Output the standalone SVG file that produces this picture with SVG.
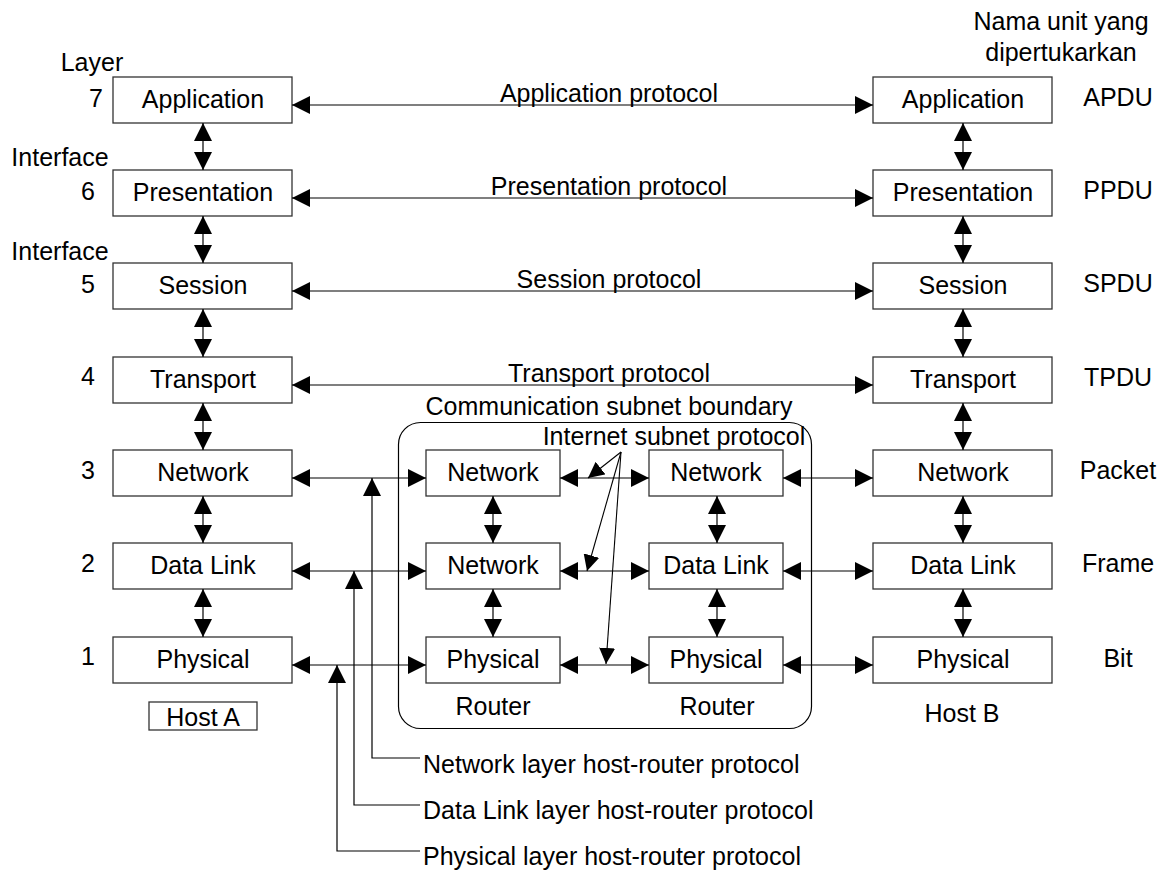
<svg xmlns="http://www.w3.org/2000/svg" width="1167" height="872" viewBox="0 0 1167 872">
<defs>
<marker id="ah" markerUnits="userSpaceOnUse" markerWidth="18" markerHeight="18" refX="18" refY="9" orient="auto-start-reverse" viewBox="0 0 18 18">
<path d="M0,0 L18,9 L0,18 z" fill="#000"/>
</marker>
<marker id="ahs" markerUnits="userSpaceOnUse" markerWidth="16" markerHeight="16" refX="16" refY="8" orient="auto" viewBox="0 0 16 16">
<path d="M0,0 L16,8 L0,16 z" fill="#000"/>
</marker>
</defs>
<style>
text{font-family:"Liberation Sans",Arial,sans-serif;font-size:25px;fill:#000}
.m{text-anchor:middle}
.e{text-anchor:end}
.box{fill:#fff;stroke:#333;stroke-width:1.3}
.ln{fill:none;stroke:#000;stroke-width:1.2}
.dbl{fill:none;stroke:#000;stroke-width:1.2;marker-start:url(#ah);marker-end:url(#ah)}
.one{fill:none;stroke:#000;stroke-width:1.2;marker-end:url(#ah)}
.thin{fill:none;stroke:#000;stroke-width:1.1;marker-end:url(#ahs)}
</style>
<rect width="1167" height="872" fill="#fff"/>

<g id="labels">
<text x="92" y="71" class="m">Layer</text>
<text x="60" y="166" class="m">Interface</text>
<text x="60" y="260" class="m">Interface</text>
<text x="96" y="107" class="m">7</text>
<text x="88" y="200" class="m">6</text>
<text x="88" y="293" class="m">5</text>
<text x="88" y="385" class="m">4</text>
<text x="88" y="479" class="m">3</text>
<text x="88" y="572" class="m">2</text>
<text x="88" y="665" class="m">1</text>
<text x="1061" y="30" class="m">Nama unit yang</text>
<text x="1061" y="61" class="m">dipertukarkan</text>
<text x="1118" y="106" class="m">APDU</text>
<text x="1118" y="199" class="m">PPDU</text>
<text x="1118" y="292" class="m">SPDU</text>
<text x="1118" y="386" class="m">TPDU</text>
<text x="1118" y="479" class="m">Packet</text>
<text x="1118" y="572" class="m">Frame</text>
<text x="1118" y="667" class="m">Bit</text>
<text x="609" y="102" class="m">Application protocol</text>
<text x="609" y="195" class="m">Presentation protocol</text>
<text x="609" y="288" class="m">Session protocol</text>
<text x="609" y="382" class="m">Transport protocol</text>
<text x="609" y="415" class="m">Communication subnet boundary</text>
<text x="674" y="445" class="m">Internet subnet protocol</text>
<text x="493" y="715" class="m">Router</text>
<text x="717" y="715" class="m">Router</text>
<text x="962" y="722" class="m">Host B</text>
<text x="423" y="773">Network layer host-router protocol</text>
<text x="423" y="819">Data Link layer host-router protocol</text>
<text x="423" y="865">Physical layer host-router protocol</text>
</g>

<g id="subnet-boundary">
<rect x="398.5" y="422.5" width="413" height="306" rx="22" ry="22" fill="none" stroke="#000" stroke-width="1.2"/>
</g>

<g id="hostA">
<g id="a7"><rect class="box" x="113" y="77" width="179" height="46"/><text x="203" y="108" class="m">Application</text></g>
<g id="a6"><rect class="box" x="113" y="170" width="179" height="46"/><text x="203" y="201" class="m">Presentation</text></g>
<g id="a5"><rect class="box" x="113" y="263" width="179" height="46"/><text x="203" y="294" class="m">Session</text></g>
<g id="a4"><rect class="box" x="113" y="357" width="179" height="46"/><text x="203" y="388" class="m">Transport</text></g>
<g id="a3"><rect class="box" x="113" y="450" width="179" height="46"/><text x="203" y="481" class="m">Network</text></g>
<g id="a2"><rect class="box" x="113" y="543" width="179" height="46"/><text x="203" y="574" class="m">Data Link</text></g>
<g id="a1"><rect class="box" x="113" y="637" width="179" height="46"/><text x="203" y="668" class="m">Physical</text></g>
<g id="hostAlabel"><rect class="box" x="149" y="702" width="108" height="28"/><text x="203" y="726" class="m">Host A</text></g>
</g>

<g id="router1">
<g id="r1n"><rect class="box" x="426" y="450" width="134" height="46"/><text x="493" y="481" class="m">Network</text></g>
<g id="r1d"><rect class="box" x="426" y="543" width="134" height="46"/><text x="493" y="574" class="m">Network</text></g>
<g id="r1p"><rect class="box" x="426" y="637" width="134" height="46"/><text x="493" y="668" class="m">Physical</text></g>
</g>

<g id="router2">
<g id="r2n"><rect class="box" x="649" y="450" width="134" height="46"/><text x="716" y="481" class="m">Network</text></g>
<g id="r2d"><rect class="box" x="649" y="543" width="134" height="46"/><text x="716" y="574" class="m">Data Link</text></g>
<g id="r2p"><rect class="box" x="649" y="637" width="134" height="46"/><text x="716" y="668" class="m">Physical</text></g>
</g>

<g id="hostB">
<g id="b7"><rect class="box" x="873" y="77" width="179" height="46"/><text x="963" y="108" class="m">Application</text></g>
<g id="b6"><rect class="box" x="873" y="170" width="179" height="46"/><text x="963" y="201" class="m">Presentation</text></g>
<g id="b5"><rect class="box" x="873" y="263" width="179" height="46"/><text x="963" y="294" class="m">Session</text></g>
<g id="b4"><rect class="box" x="873" y="357" width="179" height="46"/><text x="963" y="388" class="m">Transport</text></g>
<g id="b3"><rect class="box" x="873" y="450" width="179" height="46"/><text x="963" y="481" class="m">Network</text></g>
<g id="b2"><rect class="box" x="873" y="543" width="179" height="46"/><text x="963" y="574" class="m">Data Link</text></g>
<g id="b1"><rect class="box" x="873" y="637" width="179" height="46"/><text x="963" y="668" class="m">Physical</text></g>
</g>

<g id="connectors">
<!-- peer protocols -->
<line class="dbl" x1="292" y1="105" x2="873" y2="105"/>
<line class="dbl" x1="292" y1="198" x2="873" y2="198"/>
<line class="dbl" x1="292" y1="291" x2="873" y2="291"/>
<line class="dbl" x1="292" y1="385" x2="873" y2="385"/>
<line class="dbl" x1="292" y1="478" x2="426" y2="478"/>
<line class="dbl" x1="292" y1="571" x2="426" y2="571"/>
<line class="dbl" x1="292" y1="665" x2="426" y2="665"/>
<line class="dbl" x1="560" y1="478" x2="649" y2="478"/>
<line class="dbl" x1="560" y1="571" x2="649" y2="571"/>
<line class="dbl" x1="560" y1="665" x2="649" y2="665"/>
<line class="dbl" x1="783" y1="478" x2="873" y2="478"/>
<line class="dbl" x1="783" y1="571" x2="873" y2="571"/>
<line class="dbl" x1="783" y1="665" x2="873" y2="665"/>
<!-- interfaces host A -->
<line class="dbl" x1="203" y1="123" x2="203" y2="170"/>
<line class="dbl" x1="203" y1="216" x2="203" y2="263"/>
<line class="dbl" x1="203" y1="309" x2="203" y2="357"/>
<line class="dbl" x1="203" y1="403" x2="203" y2="450"/>
<line class="dbl" x1="203" y1="496" x2="203" y2="543"/>
<line class="dbl" x1="203" y1="589" x2="203" y2="637"/>
<!-- interfaces host B -->
<line class="dbl" x1="963" y1="123" x2="963" y2="170"/>
<line class="dbl" x1="963" y1="216" x2="963" y2="263"/>
<line class="dbl" x1="963" y1="309" x2="963" y2="357"/>
<line class="dbl" x1="963" y1="403" x2="963" y2="450"/>
<line class="dbl" x1="963" y1="496" x2="963" y2="543"/>
<line class="dbl" x1="963" y1="589" x2="963" y2="637"/>
<!-- routers -->
<line class="dbl" x1="493" y1="496" x2="493" y2="543"/>
<line class="dbl" x1="493" y1="589" x2="493" y2="637"/>
<line class="dbl" x1="717" y1="496" x2="717" y2="543"/>
<line class="dbl" x1="717" y1="589" x2="717" y2="637"/>
<!-- internet subnet protocol pointers -->
<line class="thin" x1="621" y1="452" x2="588" y2="478"/>
<line class="thin" x1="621" y1="452" x2="587" y2="571"/>
<line class="thin" x1="621" y1="452" x2="606" y2="664"/>
<!-- host-router leaders -->
<path class="one" d="M420,758 H372 V478"/>
<path class="one" d="M420,805 H354 V571"/>
<path class="one" d="M420,851 H337 V665"/>
</g>
</svg>
